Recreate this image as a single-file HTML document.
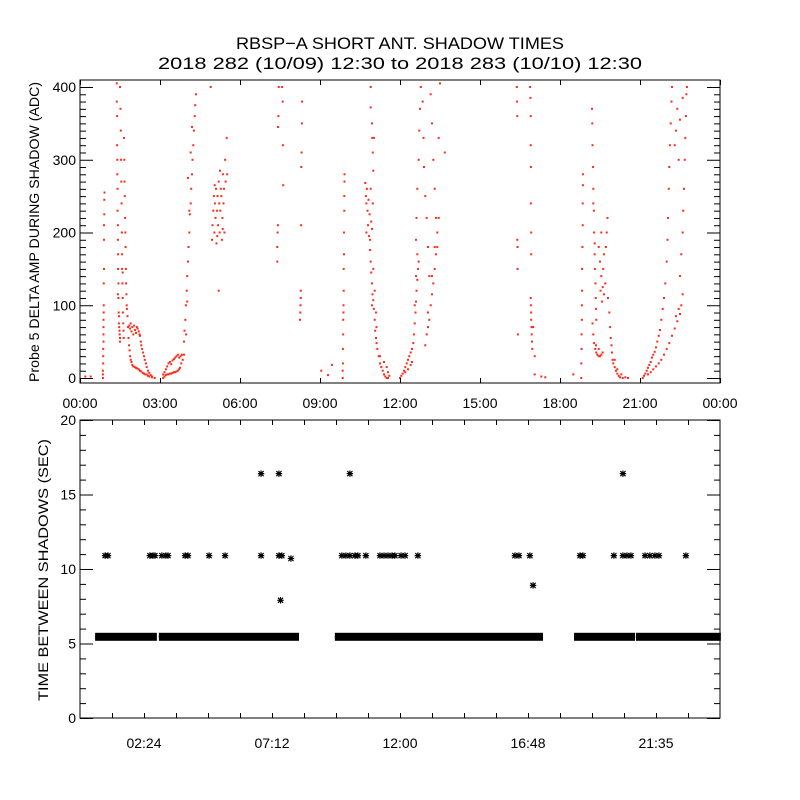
<!DOCTYPE html>
<html><head><meta charset="utf-8"><style>
body{margin:0;background:#fff;}
svg{display:block;font-family:"Liberation Sans",sans-serif;}
</style></head><body>
<svg id="chart" width="800" height="800" viewBox="0 0 800 800" xmlns="http://www.w3.org/2000/svg">
<rect width="800" height="800" fill="#fff"/>
<text x="400" y="49" font-size="17" text-anchor="middle" textLength="328" lengthAdjust="spacingAndGlyphs">RBSP−A SHORT ANT. SHADOW TIMES</text>
<text x="400" y="69" font-size="17" text-anchor="middle" textLength="484" lengthAdjust="spacingAndGlyphs">2018 282 (10/09) 12:30 to 2018 283 (10/10) 12:30</text>
<g id="topPanel"></g>
<g id="botPanel"></g>
</svg>
<script>
// ---- top panel data: [hour, ADC] ----
const pass1 = [[0.2,2],[0.4,2],[0.86,0],[0.86,5],[0.86,10],[0.87,20],[0.87,30],[0.87,40],[0.88,50],[0.88,60],[0.88,70],[0.88,80],[0.89,90],[0.89,100],[0.89,130],[0.9,150],[0.9,190],[0.9,210],[0.91,225],[0.91,245],[0.92,255],
[1.38,405],[1.38,380],[1.39,360],[1.39,320],[1.4,300],[1.4,280],[1.41,260],[1.41,230],[1.42,210],[1.42,190],[1.43,170],[1.43,150],[1.44,130],[1.44,110],[1.45,90],[1.46,75],[1.47,70],[1.48,65],[1.49,60],[1.5,55],[1.5,50],[1.42,115],[1.46,85],
[1.5,400],[1.52,370],[1.53,340],[1.54,300],[1.55,270],[1.56,240],[1.57,200],[1.58,170],[1.58,150],[1.59,130],[1.6,110],[1.61,90],[1.62,75],[1.63,65],[1.64,55],[1.6,145],
[1.65,330],[1.66,300],[1.67,270],[1.68,250],[1.69,220],[1.7,200],[1.71,180],[1.72,150],[1.73,130],[1.74,115],[1.75,100],[1.76,95],[1.78,85],[1.8,70],
[1.82,55],[1.84,45],[1.86,38],[1.88,30],[1.9,25],[1.93,22],[1.96,18],[2.0,16],[2.05,15],[2.1,14],[2.15,13],[2.2,12],[2.25,10],[2.3,9],[2.35,7],[2.4,6],[2.45,5],[2.5,5],[2.55,3],[2.6,2],[2.7,1],[2.8,0],
[1.85,72],[1.88,68],[1.9,75],[1.93,64],[1.96,70],[2.0,60],[2.03,72],[2.06,66],[2.1,62],[2.13,70],[2.16,68],[2.2,64],[2.23,60],[2.25,58],[2.28,50],[2.3,45],[2.33,40],[2.36,35],[2.4,30],[2.43,25],[2.47,20],[2.5,15],[2.55,10],[2.6,7],[2.65,4],[2.7,2],
[3.12,5],[3.17,8],[3.22,12],[3.27,16],[3.32,20],[3.37,22],[3.42,19],[3.47,24],[3.52,26],[3.57,28],[3.62,30],[3.67,32],[3.72,28],[3.77,30],[3.82,32],
[3.12,0],[3.17,2],[3.22,4],[3.27,5],[3.32,5],[3.37,6],[3.42,6],[3.47,7],[3.52,8],[3.57,8],[3.62,9],[3.67,10],[3.72,12],[3.75,14],[3.8,20],[3.85,25],[3.9,32],
[3.9,50],[3.92,65],[3.95,80],[3.97,100],[4.0,120],[4.02,140],[4.05,160],[4.07,180],[4.1,200],[4.12,225],[4.15,240],[4.17,260],[4.2,280],[4.22,300],[4.25,320],[4.27,340],[4.3,360],[4.32,375],[4.35,390],[4.1,230],[4.05,275],[4.15,310],[4.2,345],[4.02,105],[3.98,60],
[4.95,190],[4.97,210],[5.0,230],[5.02,250],[5.04,200],[5.06,240],[5.08,220],[5.1,260],[5.12,185],[5.14,230],[5.16,250],[5.18,210],[5.2,270],[5.22,240],[5.24,200],[5.26,230],[5.28,260],[5.3,250],[5.32,190],[5.34,220],[5.36,280],[5.38,240],[5.4,260],[5.42,200],[5.44,300],[5.46,270],[5.5,330],[5.52,280],[5.05,265],[5.15,195],[5.25,285],[5.35,205],[5.2,120],[4.9,400],
[7.4,160],[7.4,180],[7.41,200],[7.42,210],[7.43,345],[7.44,360],[7.45,400],[7.58,400],[7.6,380],[7.61,320],[7.62,265],
[8.25,80],[8.26,90],[8.27,100],[8.28,110],[8.28,120],[8.29,210],[8.3,290],[8.31,310],[8.32,350],[8.33,380]];
const pass2 = [[9.05,10],[9.3,4],[9.45,18],[9.85,0],[9.85,10],[9.86,20],[9.86,40],[9.87,60],[9.87,80],[9.88,90],[9.88,100],[9.89,120],[9.89,150],[9.9,170],[9.9,200],[9.91,230],[9.91,250],[9.92,270],[9.92,280],
[10.7,268],[10.72,250],[10.74,240],[10.76,260],[10.78,230],[10.8,210],[10.82,245],[10.84,195],[10.86,225],[10.88,190],[10.9,260],[10.92,215],[10.74,200],[10.95,205],[10.98,240],
[10.88,176],[10.9,160],[10.92,145],[10.95,130],[10.97,115],[11.0,107],[11.02,95],[11.05,80],[11.07,65],[11.1,55],[11.12,48],[11.0,150],[11.05,120],[10.95,100],[11.1,90],[11.12,70],
[11.15,40],[11.2,30],[11.25,20],[11.3,15],[11.35,10],[11.4,5],[11.45,2],[11.5,0],[11.55,0],[11.6,3],[11.25,30],[11.4,22],[11.5,15],[11.55,8],
[10.9,400],[10.9,372],[10.95,350],[10.96,330],[10.98,310],[11.0,285],[11.02,330],
[12.0,0],[12.05,3],[12.1,6],[12.15,10],[12.2,15],[12.25,20],[12.3,25],[12.35,30],[12.4,35],[12.45,40],[12.2,8],[12.3,12],[12.4,18],[12.45,22],
[12.5,48],[12.52,60],[12.55,75],[12.58,90],[12.6,105],[12.62,120],[12.65,135],[12.68,150],[12.7,160],[12.55,100],[12.6,140],[12.65,170],
[12.6,190],[12.62,220],[12.65,260],[12.7,300],[12.72,340],[12.75,370],[12.78,400],[12.85,380],[12.88,330],[12.9,290],[12.95,250],[13.0,220],[13.05,180],[13.1,140],[13.15,390],[13.2,350],[13.25,300],[13.3,260],[13.35,220],[13.4,180],[13.45,330],[13.5,405],
[12.95,45],[13.0,60],[13.05,70],[13.1,80],[13.15,100],[13.2,115],[13.25,130],[13.3,150],[13.35,170],[13.4,200],[13.45,220],[13.05,90],[13.2,140],[13.3,180],[13.68,310]];
const pass3 = [[16.38,400],[16.39,380],[16.4,360],[16.4,190],[16.41,180],[16.41,150],[16.42,60],
[16.88,400],[16.89,385],[16.9,360],[16.9,320],[16.91,290],[16.91,240],[16.92,200],[16.92,170],[16.9,110],[16.91,100],[16.92,90],[16.92,80],[16.93,70],[16.94,60],[16.95,50],[16.96,40],[17.0,70],[17.05,30],[17.05,5],[17.3,2],[17.45,1],[18.5,5],
[18.8,0],[18.8,20],[18.81,40],[18.81,60],[18.82,80],[18.82,100],[18.83,120],[18.83,150],[18.84,180],[18.85,210],[18.85,240],[18.86,265],[18.86,280],
[19.2,370],[19.21,350],[19.22,320],[19.24,290],[19.25,260],[19.27,230],[19.28,200],[19.3,170],[19.31,150],[19.33,130],[19.34,110],[19.35,95],[19.36,80],[19.25,240],[19.3,185],
[19.22,75],[19.25,60],[19.28,48],[19.32,40],[19.36,35],[19.4,32],[19.45,30],[19.5,30],[19.55,32],[19.6,35],[19.35,45],[19.45,40],
[19.45,180],[19.5,160],[19.55,140],[19.6,125],[19.65,115],[19.52,120],[19.58,105],[19.62,150],[19.7,130],[19.72,180],[19.75,200],[19.78,220],[19.55,200],[19.65,170],
[19.8,110],[19.85,90],[19.88,70],[19.9,55],[19.93,45],[19.95,35],[19.97,25],[20.0,20],[20.05,15],[20.1,10],[20.15,6],[20.2,3],[20.25,1],[20.35,0],[20.45,1],[20.55,0],[20.05,25],[20.15,12],[20.3,5],
[21.1,0],[21.15,3],[21.2,6],[21.25,10],[21.3,14],[21.35,18],[21.4,22],[21.45,28],[21.5,32],[21.55,36],[21.6,42],[21.65,50],[21.7,58],[21.75,66],[21.8,80],[21.85,95],[21.9,110],[21.95,130],[22.0,160],[22.03,190],[22.05,220],[22.08,260],[22.1,290],[22.12,320],[22.15,350],[22.18,380],[22.2,400],
[21.3,5],[21.4,8],[21.5,12],[21.6,16],[21.7,20],[21.8,25],[21.9,32],[22.0,40],[22.1,48],[22.2,58],[22.3,68],[22.4,78],[22.5,88],[22.55,100],[22.6,115],[22.35,85],[22.45,95],
[22.5,140],[22.55,170],[22.6,200],[22.62,230],[22.65,260],[22.68,300],[22.7,330],[22.72,360],[22.74,390],[22.76,400],[22.3,320],[22.35,340],[22.4,370],[22.45,300],[22.5,355],[22.6,385]];

// ---- bottom panel data ----
const starTimes = [0.94,1.05,2.62,2.74,2.81,3.07,3.22,3.3,3.94,4.05,4.84,5.44,6.79,7.46,7.57,7.91,9.82,9.97,10.12,10.31,10.42,10.72,11.25,11.4,11.55,11.7,11.81,12.04,12.19,12.67,16.31,16.46,16.87,18.75,18.86,20.02,20.36,20.51,20.66,21.19,21.37,21.56,21.71,22.72,6.79,7.46,10.12,20.36,7.52,16.99];
const starValues = [10.9,10.9,10.9,10.9,10.9,10.9,10.9,10.9,10.9,10.9,10.9,10.9,10.9,10.9,10.9,10.7,10.9,10.9,10.9,10.9,10.9,10.9,10.9,10.9,10.9,10.9,10.9,10.9,10.9,10.9,10.9,10.9,10.9,10.9,10.9,10.9,10.9,10.9,10.9,10.9,10.9,10.9,10.9,10.9,16.4,16.4,16.4,16.4,7.9,8.9];
const bandStarts = [0.68,3.07,9.67,12.11,18.64,20.96];
const bandEnds = [2.77,8.1,11.89,17.25,20.7,23.92];
const bandValue = 5.45;
const topTickLabels = ["00:00","03:00","06:00","09:00","12:00","15:00","18:00","21:00","00:00"];
const botTickLabels = ["02:24","07:12","12:00","16:48","21:35"];

const NS="http://www.w3.org/2000/svg";
function mk(parent,tag,attrs){const e=document.createElementNS(NS,tag);for(const k in attrs)e.setAttribute(k,attrs[k]);parent.appendChild(e);return e;}
const L=80,R=720;
const xs=h=>L+h*(R-L)/24;
const tT=80,tB=383;
const ysT=v=>378-v*0.7275;
const ysB=v=>718-v*14.9;
const topG=document.getElementById('topPanel'), botG=document.getElementById('botPanel');

const pts=mk(topG,'g',{fill:'#ff2a1a'});


[pass1,pass2,pass3].forEach(arr=>arr.forEach(p=>{
  const y=Math.max(tT+1,ysT(p[1]));
  const r=mk(pts,'rect',{x:(xs(p[0])-1).toFixed(1),y:(y-1).toFixed(1),width:2,height:2});
  
  
}));
const frT=mk(topG,'rect',{x:L,y:tT,width:R-L,height:tB-tT,fill:'none',stroke:'#000','stroke-width':1});


const axT=mk(topG,'g',{stroke:'#000','stroke-width':1});
for(let v=0;v<=400;v+=10){const y=ysT(v)+0.5,len=v%100===0?13:6;
  mk(axT,'line',{x1:L,x2:L+len,y1:y,y2:y});mk(axT,'line',{x1:R,x2:R-len,y1:y,y2:y});}
for(let i=0;i<=8;i++){const x=xs(i*3)+0.5;mk(axT,'line',{x1:x,x2:x,y1:tT,y2:tT+5});mk(axT,'line',{x1:x,x2:x,y1:tB,y2:tB-5});
  const t=mk(topG,'text',{x:xs(i*3),y:408,'font-size':14,'text-anchor':'middle'});t.textContent=topTickLabels[i];
  
  }
for(let v=0;v<=400;v+=100){const t=mk(topG,'text',{x:76,y:ysT(v)+5,'font-size':14,'text-anchor':'end'});t.textContent=String(v);
  
  }
const yt=mk(topG,'text',{x:0,y:0,'font-size':14,'text-anchor':'middle',textLength:300,lengthAdjust:'spacingAndGlyphs',transform:'translate(39,232) rotate(-90)'});
yt.textContent='Probe 5 DELTA AMP DURING SHADOW (ADC)';



// bottom
const bT=420,bB=718;
function star(g,x,y){const s=3.2;
  mk(g,'path',{d:`M${x-s} ${y}H${x+s}M${x} ${y-s}V${y+s}M${x-s*0.8} ${y-s*0.8}L${x+s*0.8} ${y+s*0.8}M${x-s*0.8} ${y+s*0.8}L${x+s*0.8} ${y-s*0.8}`});}
const sg=mk(botG,'g',{stroke:'#000','stroke-width':1.2,fill:'none'});


for(let i=0;i<bandStarts.length;i++){
  const b=mk(sg,'rect',{x:xs(bandStarts[i])-3,y:ysB(bandValue)-4,width:xs(bandEnds[i])-xs(bandStarts[i])+6,height:8,fill:'#000',stroke:'none'});
  
  
  for(let x=xs(bandStarts[i]);x<=xs(bandEnds[i]);x+=6)star(sg,x,ysB(bandValue));
}
starTimes.forEach((t,i)=>star(sg,xs(t),ysB(starValues[i])));
const frB=mk(botG,'rect',{x:L,y:bT,width:R-L,height:bB-bT,fill:'none',stroke:'#000','stroke-width':1});


const axB=mk(botG,'g',{stroke:'#000','stroke-width':1});
for(let v=0;v<=20;v++){const y=ysB(v)+0.5,len=v%5===0?13:6;
  mk(axB,'line',{x1:L,x2:L+len,y1:y,y2:y});mk(axB,'line',{x1:R,x2:R-len,y1:y,y2:y});}
for(let i=1;i<20;i++){const x=xs(i*1.2)+0.5;mk(axB,'line',{x1:x,x2:x,y1:bT,y2:bT+5});mk(axB,'line',{x1:x,x2:x,y1:bB,y2:bB-5});}
botTickLabels.forEach((lab,i)=>{const t=mk(botG,'text',{x:xs(2.4+i*4.8),y:748,'font-size':14,'text-anchor':'middle'});t.textContent=lab;
  
  });
for(let v=0;v<=20;v+=5){const t=mk(botG,'text',{x:76,y:ysB(v)+5,'font-size':14,'text-anchor':'end'});t.textContent=String(v);
  
  }
const yb=mk(botG,'text',{x:0,y:0,'font-size':14,'text-anchor':'middle',textLength:262,lengthAdjust:'spacingAndGlyphs',transform:'translate(48,570) rotate(-90)'});
yb.textContent='TIME BETWEEN SHADOWS (SEC)';


</script>
</body></html>
